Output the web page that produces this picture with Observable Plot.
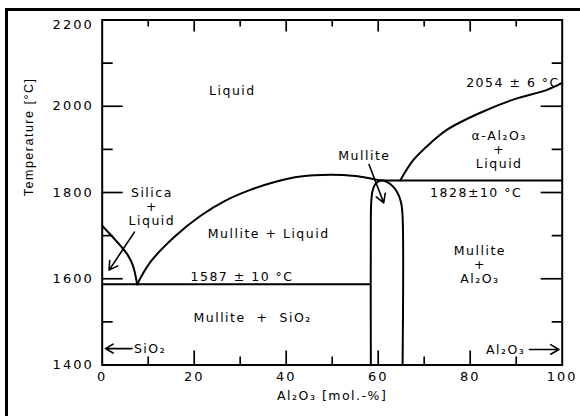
<!DOCTYPE html>
<html>
<head>
<meta charset="utf-8">
<script src="https://cdn.jsdelivr.net/npm/d3@7"></script>
<script src="https://cdn.jsdelivr.net/npm/@observablehq/plot@0.6"></script>
<style>
  html, body { margin: 0; padding: 0; background: #fff; }
  #chart { position: relative; width: 580px; height: 416px; overflow: hidden; }
  #chart .edge {
    position: absolute; left: 5px; top: 8px; right: 0; bottom: 0;
    border-left: 3px solid #000; border-top: 3px solid #000; pointer-events: none;
  }
  #chart svg { display: block; }
  #chart svg text { letter-spacing: 1.5px; }
  #chart g[aria-label$="tick label"] text { letter-spacing: 2px; }
  #chart g[aria-label="temperature title"] text { letter-spacing: 0; }
</style>
</head>
<body>
<div id="chart"><div class="edge"></div></div>
<script>
// Al2O3–SiO2 phase diagram: composition in mol.-% Al2O3, temperature in °C

// Liquidus of silica (cristobalite) down to the eutectic
const silicaLiquidus = [[0, 1723], [2, 1700], [4, 1676], [5.5, 1656], [6.7, 1630], [7.6, 1587]];
// Liquidus of mullite, from the eutectic over its maximum to the mullite point
const mulliteLiquidus = [[7.6, 1587], [10.5, 1639], [15.9, 1699], [21.4, 1746], [26.8, 1781],
  [32.2, 1806], [37.7, 1825], [43.1, 1837], [49.6, 1841], [55, 1838], [58.5, 1832], [60.5, 1828]];
// Liquidus of alpha-alumina up to its melting point
const aluminaLiquidus = [[64.8, 1828], [67.7, 1876], [71.4, 1915], [75, 1946], [82.2, 1985],
  [89.5, 2016], [96.7, 2038], [100, 2054]];
// Solid-solution field of mullite (left solvus, top, right solvus)
const mulliteField = [[58.4, 1400], [58.4, 1740], [58.5, 1780], [58.8, 1805], [59.4, 1820],
  [60.5, 1828], [62, 1824], [63.4, 1812], [64.4, 1795], [65, 1775], [65.3, 1745], [65.3, 1400]];

// Invariant lines
const eutecticT = 1587;
const eutecticSpan = [0, 58.4];
const peritecticT = 1828;
const peritecticSpan = [60.5, 100];

// Pointer arrows [from x, from T, to x, to T]
const pointers = [[7.0, 1708, 1.5, 1620], [58.0, 1865, 61.2, 1776], [6.5, 1438, 0.7, 1438], [92.9, 1436, 99.3, 1436]];

// Field and temperature labels [text, x, T]
const fieldLabels = [
  ["Liquid", 28.3, 2037],
  ["2054 ± 6 °C", 89.3, 2056],
  ["α-Al₂O₃\n+\nLiquid", 86.3, 1899],
  ["Mullite", 57.0, 1886],
  ["1828±10 °C", 81.3, 1800],
  ["Mullite\n+\nAl₂O₃", 82.1, 1634],
  ["Silica\n+\nLiquid", 10.8, 1767],
  ["Mullite + Liquid", 36.2, 1706],
  ["1587 ± 10 °C", 30.4, 1606],
  ["Mullite\u00a0\u00a0+\u00a0\u00a0SiO₂", 32.7, 1511],
  ["Al₂O₃", 87.7, 1436]
];
const endLabelLeft = [["SiO₂", 6.9, 1438]];

// Axis ticks
const xTickLabels = [0, 20, 40, 60, 80, 100];
const xMajor = [20, 40, 60, 80];
const xMinor = [10, 30, 50, 70, 90];
const yTickLabels = [1400, 1600, 1800, 2000];
const yTopLabel = [2200];
const yMajor = [1600, 1800, 2000];
const yMinor = [1500, 1700, 1900, 2100];

const W = 580, H = 416;
const margin = {left: 101.7, right: 18.3, top: 19.5, bottom: 51.5};
const xDomain = [0, 100], yDomain = [1400, 2200];
// data units per pixel, used to give tick marks a fixed pixel length
const xPerPx = (xDomain[1] - xDomain[0]) / (W - margin.left - margin.right);
const yPerPx = (yDomain[1] - yDomain[0]) / (H - margin.top - margin.bottom);
const tickStroke = 1.7;

// inward tick marks of a given pixel length along each side of the frame
const leftTicks = (data, len) => Plot.ruleY(data, {y: (d) => d, x1: xDomain[0], x2: xDomain[0] + len * xPerPx, strokeWidth: tickStroke});
const rightTicks = (data, len) => Plot.ruleY(data, {y: (d) => d, x1: xDomain[1] - len * xPerPx, x2: xDomain[1], strokeWidth: tickStroke});
const bottomTicks = (data, len) => Plot.ruleX(data, {x: (d) => d, y1: yDomain[0], y2: yDomain[0] + len * yPerPx, strokeWidth: tickStroke});
const topTicks = (data, len) => Plot.ruleX(data, {x: (d) => d, y1: yDomain[1] - len * yPerPx, y2: yDomain[1], strokeWidth: tickStroke});

const curve = (data) => Plot.line(data, {x: (d) => d[0], y: (d) => d[1], curve: "catmull-rom", strokeWidth: 2});
const plain = (d) => `${d}`;

const chart = Plot.plot({
  width: W,
  height: H,
  marginLeft: margin.left,
  marginRight: margin.right,
  marginTop: margin.top,
  marginBottom: margin.bottom,
  x: {domain: xDomain},
  y: {domain: yDomain},
  style: {fontFamily: "'DejaVu Sans', sans-serif", fontSize: "12.5px", color: "#000", background: "#fff"},
  marks: [
    leftTicks(yMajor, 21), leftTicks(yMinor, 11),
    rightTicks(yMajor, 21), rightTicks(yMinor, 10),
    bottomTicks(xMajor, 14), bottomTicks(xMinor, 8),
    topTicks(xMajor, 12), topTicks(xMinor, 7),
    // tick labels
    Plot.axisY(yTickLabels, {anchor: "left", tickSize: 0, tickPadding: 8.5, fontSize: 13, tickFormat: plain, label: null}),
    Plot.axisY(yTopLabel, {anchor: "left", tickSize: 0, tickPadding: 8.5, fontSize: 13, dy: 5, tickFormat: plain, label: null}),
    Plot.axisX(xTickLabels, {anchor: "bottom", tickSize: 0, tickPadding: 7, fontSize: 13, tickFormat: plain, label: null}),
    // axis titles
    Plot.text(["Temperature [°C]"], {frameAnchor: "left", rotate: -90, dx: -73.4, dy: 3.7,
      fontFamily: "'Liberation Sans', Arial, sans-serif", fontSize: 12.5, ariaLabel: "temperature title"}),
    Plot.text(["Al₂O₃ [mol.-%]"], {frameAnchor: "bottom", dy: 34.5, fontSize: 12.5}),
    Plot.frame({strokeWidth: 2}),
    // phase boundaries
    curve(silicaLiquidus),
    curve(mulliteLiquidus),
    curve(aluminaLiquidus),
    curve(mulliteField),
    Plot.ruleY([eutecticT], {x1: eutecticSpan[0], x2: eutecticSpan[1], strokeWidth: 2}),
    Plot.ruleY([peritecticT], {x1: peritecticSpan[0], x2: peritecticSpan[1], strokeWidth: 2}),
    Plot.arrow(pointers, {x1: (d) => d[0], y1: (d) => d[1], x2: (d) => d[2], y2: (d) => d[3],
      strokeWidth: 1.6, headLength: 9, headAngle: 60}),
    // labels
    Plot.text(fieldLabels, {x: (d) => d[1], y: (d) => d[2], text: (d) => d[0], lineHeight: 1.12}),
    Plot.text(endLabelLeft, {x: (d) => d[1], y: (d) => d[2], text: (d) => d[0], textAnchor: "start"})
  ]
});

document.getElementById("chart").appendChild(chart);
</script>
</body>
</html>
